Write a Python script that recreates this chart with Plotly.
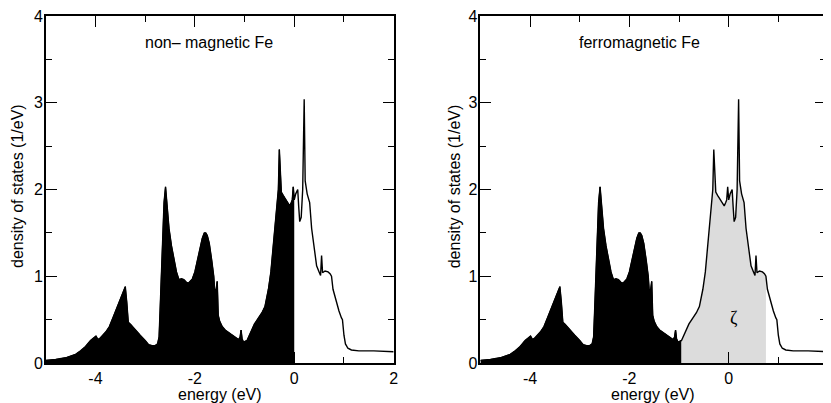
import numpy as np
import plotly.graph_objects as go

# density of states of Fe (energy in eV, DOS in 1/eV)
energy = [-5.0, -4.8, -4.6, -4.4, -4.3, -4.2, -4.1, -4.03, -3.99, -3.95, -3.9, -3.79,
          -3.72, -3.65, -3.58, -3.52, -3.46, -3.40, -3.37, -3.34, -3.3, -3.2, -3.1,
          -3.0, -2.93, -2.86, -2.8, -2.75, -2.72, -2.70, -2.66, -2.62, -2.59, -2.55,
          -2.52, -2.47, -2.42, -2.37, -2.32, -2.27, -2.22, -2.17, -2.13, -2.05, -2.0,
          -1.95, -1.9, -1.85, -1.81, -1.78, -1.75, -1.71, -1.66, -1.62, -1.60, -1.57,
          -1.55, -1.53, -1.5, -1.45, -1.39, -1.3, -1.2, -1.12, -1.09, -1.07, -1.05,
          -1.02, -0.95, -0.85, -0.8, -0.72, -0.65, -0.59, -0.52, -0.47, -0.43, -0.39,
          -0.35, -0.32, -0.30, -0.28, -0.26, -0.22, -0.15, -0.09, -0.06, -0.04, -0.02,
          0.0, 0.03, 0.07, 0.09, 0.11, 0.14, 0.17, 0.20, 0.22, 0.26, 0.31, 0.35, 0.40,
          0.45, 0.50, 0.53, 0.55, 0.57, 0.62, 0.68, 0.72, 0.75, 0.78, 0.84, 0.90, 0.95,
          0.97, 1.0, 1.03, 1.08, 1.15, 1.3, 1.6, 2.0]
dos = [0.03, 0.04, 0.06, 0.1, 0.14, 0.19, 0.26, 0.29, 0.31, 0.27, 0.29, 0.36,
       0.42, 0.52, 0.62, 0.70, 0.80, 0.88, 0.70, 0.47, 0.45, 0.38, 0.32,
       0.26, 0.21, 0.20, 0.20, 0.22, 0.30, 0.6, 1.3, 1.85, 2.03, 1.75,
       1.55, 1.35, 1.18, 1.05, 0.96, 0.97, 0.96, 0.93, 0.92, 0.97, 1.05,
       1.18, 1.32, 1.44, 1.50, 1.50, 1.47, 1.38, 1.18, 1.0, 0.83, 0.85,
       0.94, 0.55, 0.48, 0.42, 0.38, 0.34, 0.30, 0.27, 0.30, 0.38, 0.28,
       0.24, 0.26, 0.38, 0.45, 0.52, 0.58, 0.65, 0.85, 1.05, 1.3, 1.6,
       1.87, 2.0, 2.46, 2.1, 1.97, 1.93, 1.87, 1.81, 1.85, 1.88, 2.03,
       1.88, 1.95, 2.0, 1.8, 1.63, 1.68, 2.0, 3.04, 2.1, 1.95, 1.85, 1.55, 1.30,
       1.12, 1.05, 1.01, 1.24, 1.04, 1.06, 1.05, 1.03, 1.0, 0.85, 0.72, 0.60, 0.52,
       0.50, 0.32, 0.22, 0.17, 0.15, 0.14, 0.14, 0.13]

fermi_nonmag = 0.0
band_lo, band_hi = -0.95, 0.75   # grey region in the ferromagnetic panel

x_tick_vals = [-4, -2, 0, 2]
x_tick_text = ["-4", "-2", "0", "2"]
x_minor_vals = [-3, -1, 1]
y_tick_vals = [0, 1, 2, 3, 4]
y_tick_text = ["0", "1", "2", "3", "4"]
y_minor_vals = [0.5, 1.5, 2.5, 3.5]

e = np.array(energy)
d = np.array(dos)

font = "Liberation Sans, Arial, Helvetica, sans-serif"
W, H = 823, 395   # page adds an 8px body margin

fig = go.Figure()

# left: non-magnetic
m = e <= fermi_nonmag
fig.add_trace(go.Scatter(x=e[m], y=d[m], mode="lines", fill="tozeroy", fillcolor="black",
                         line=dict(color="black", width=1), xaxis="x", yaxis="y"))
fig.add_trace(go.Scatter(x=e, y=d, mode="lines", line=dict(color="black", width=1.4),
                         xaxis="x", yaxis="y"))

# right: ferromagnetic
m1 = e <= band_lo
m2 = (e >= band_lo) & (e <= band_hi)
fig.add_trace(go.Scatter(x=e[m1], y=d[m1], mode="lines", fill="tozeroy", fillcolor="black",
                         line=dict(color="black", width=1), xaxis="x2", yaxis="y2"))
fig.add_trace(go.Scatter(x=e[m2], y=d[m2], mode="lines", fill="tozeroy", fillcolor="#dcdcdc",
                         line=dict(color="#dcdcdc", width=0), xaxis="x2", yaxis="y2"))
fig.add_trace(go.Scatter(x=e, y=d, mode="lines", line=dict(color="black", width=1.4),
                         xaxis="x2", yaxis="y3"))

tickfont = dict(family=font, size=16, color="black")
ax_common = dict(showgrid=False, zeroline=False, showline=True, linecolor="black", linewidth=1.5,
                 ticks="inside", ticklen=11, tickwidth=1.2, tickcolor="black", tickfont=tickfont,
                 ticklabeloverflow="allow")
xa = dict(ax_common, tickmode="array", tickvals=x_tick_vals, ticktext=x_tick_text,
          minor=dict(tickmode="array", tickvals=x_minor_vals, ticks="inside", ticklen=6,
                     tickwidth=1.2, tickcolor="black"))
ya = dict(ax_common, range=[0, 4], tickmode="array", tickvals=y_tick_vals, ticktext=y_tick_text,
          ticklabelstandoff=-2,
          minor=dict(tickmode="array", tickvals=y_minor_vals, ticks="inside", ticklen=6,
                     tickwidth=1.2, tickcolor="black"))

fig.update_layout(
    width=W, height=H,
    margin=dict(l=0, r=0, t=6, b=40),
    paper_bgcolor="white", plot_bgcolor="white",
    showlegend=False,
    font=dict(family=font, size=16, color="black"),
    xaxis=dict(xa, domain=[38 / W, 388 / W], range=[-5, 2], anchor="y", mirror="ticks"),
    yaxis=dict(ya, domain=[0, 1], anchor="x", mirror="ticks"),
    xaxis2=dict(xa, domain=[475.3 / W, 1.0], range=[-5, 1.96], anchor="y2", mirror="ticks"),
    yaxis2=dict(ya, domain=[0, 1], anchor="x2", mirror=False),
    yaxis3=dict(ya, overlaying="y2", anchor="x2", side="right", showline=False,
                showticklabels=False),
)

ann = dict(showarrow=False, font=dict(family=font, size=16, color="black"))
fig.add_annotation(ann, text="non\u2013 magnetic Fe", x=-1.72, y=3.69, xref="x", yref="y")
fig.add_annotation(ann, text="ferromagnetic Fe", x=-1.79, y=3.69, xref="x2", yref="y2")
fig.add_annotation(showarrow=False, text="\u03b6", x=0.1, y=0.52, xref="x2", yref="y2",
                   font=dict(family="Liberation Serif, DejaVu Serif, serif", size=18, color="black"))
fig.add_annotation(ann, text="energy (eV)", x=0.5, y=-0.09, xref="x domain", yref="paper",
                   yanchor="middle")
fig.add_annotation(ann, text="energy (eV)", x=0.5, y=-0.09, xref="x2 domain", yref="paper",
                   yanchor="middle")
fig.add_annotation(ann, text="density of states (1/eV)", textangle=-90, x=9 / W, y=0.51,
                   xref="paper", yref="paper", xanchor="center", yanchor="middle")
fig.add_annotation(ann, text="density of states (1/eV)", textangle=-90, x=449 / W, y=0.51,
                   xref="paper", yref="paper", xanchor="center", yanchor="middle")
# tick label "2" of the right panel, cut by the picture edge
fig.add_annotation(ann, text="2", x=2, y=-0.165, xref="x2", yref="y2", yanchor="middle")

fig.write_html("out.html")
